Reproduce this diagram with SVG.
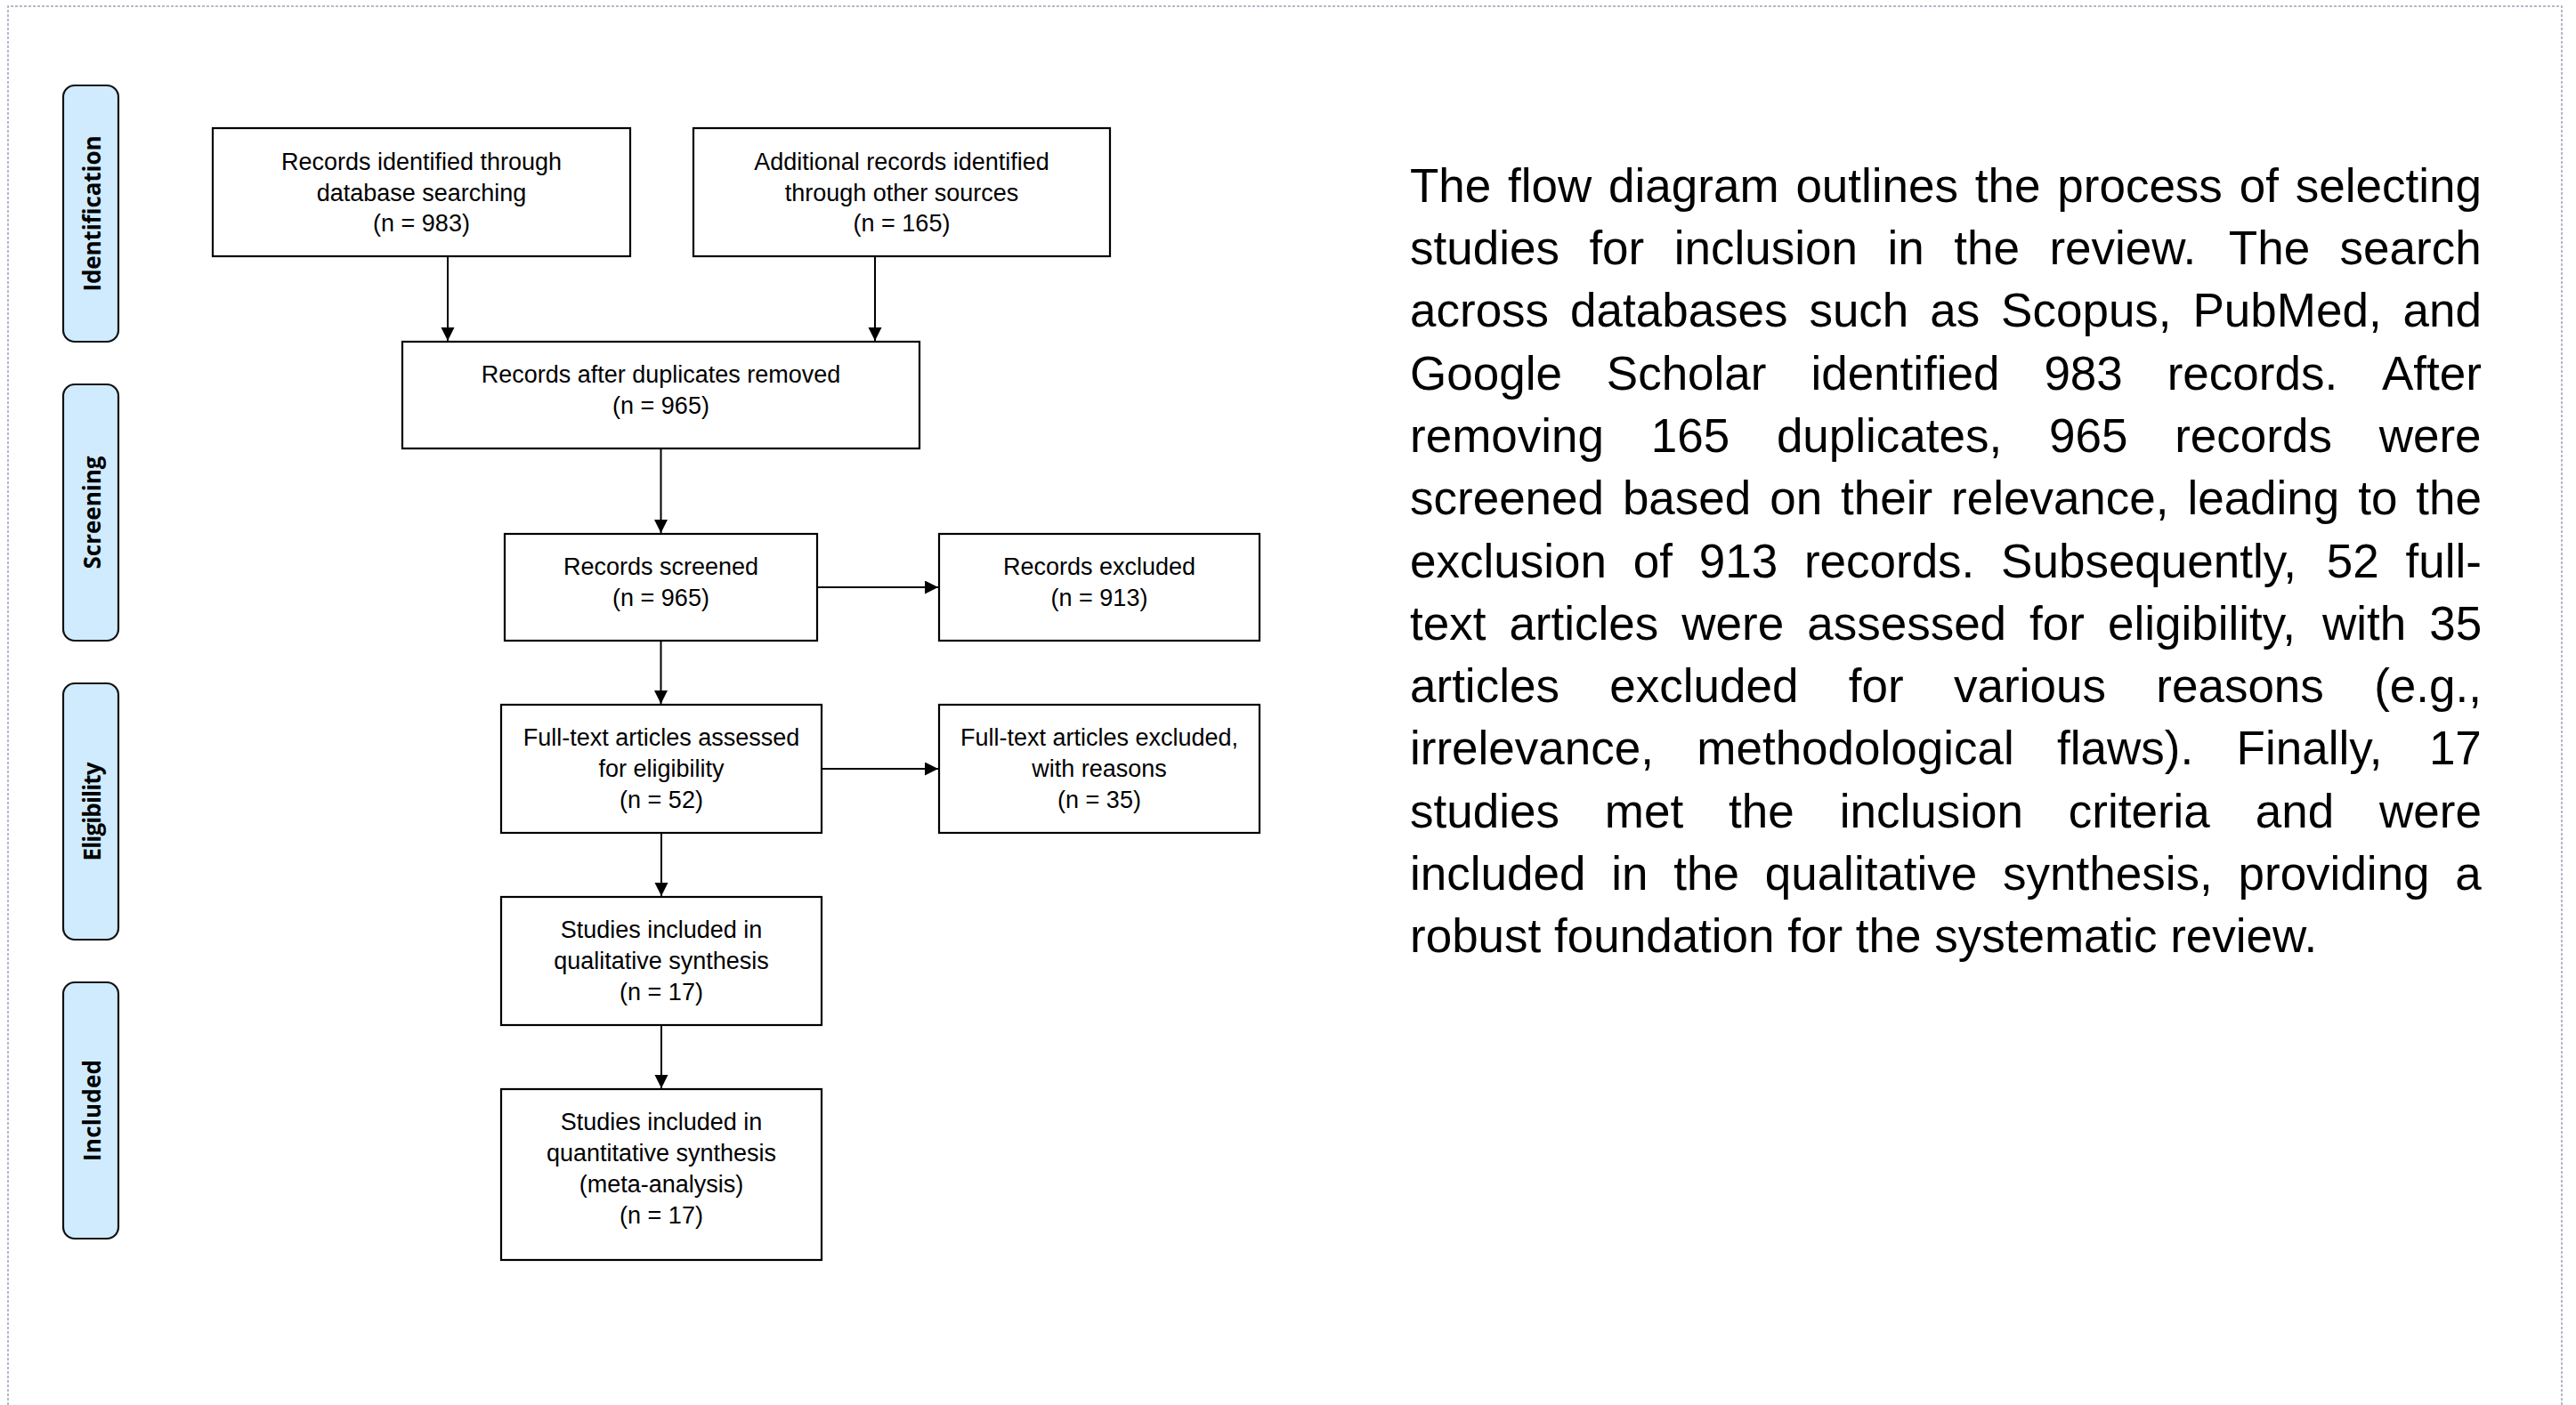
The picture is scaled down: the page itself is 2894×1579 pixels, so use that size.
<svg xmlns="http://www.w3.org/2000/svg" width="2894" height="1579" viewBox="0 0 2894 1579">
<defs>
<style>
.frame{fill:none;stroke:#9aa3b5;stroke-width:1.5;stroke-dasharray:3 2}
.phase rect{fill:#cfebfd;stroke:#111;stroke-width:2.2}
.phase text{font-family:"Open Sans","DejaVu Sans",sans-serif;font-weight:bold;font-size:26px;fill:#000;text-anchor:middle}
.box rect{fill:#fff;stroke:#000;stroke-width:2.2}
.box text{font-family:"Liberation Sans",Arial,sans-serif;font-size:27px;fill:#000;text-anchor:middle}
.conn line{stroke:#000;stroke-width:2;marker-end:url(#ah)}
.p{font-family:"Liberation Sans",Arial,sans-serif;font-size:53px;fill:#000}
</style>
<marker id="ah" markerUnits="userSpaceOnUse" markerWidth="16" markerHeight="16" refX="15" refY="7.5" orient="auto">
<path d="M0,0 L15,7.5 L0,15 Z" fill="#000"/>
</marker>
</defs>
<rect width="2894" height="1579" fill="#fff"/>
<path class="frame" d="M9,1579 V7 H2878 V1579"/>

<g id="phase-identification" class="phase">
<rect x="71" y="96" width="62" height="288" rx="13"/>
<text x="113" y="240" transform="rotate(-90 113 240)" textLength="175">Identification</text>
</g>
<g id="phase-screening" class="phase">
<rect x="71" y="432" width="62" height="288" rx="13"/>
<text x="113" y="576" transform="rotate(-90 113 576)" textLength="127">Screening</text>
</g>
<g id="phase-eligibility" class="phase">
<rect x="71" y="768" width="62" height="288" rx="13"/>
<text x="113" y="912" transform="rotate(-90 113 912)" textLength="111">Eligibility</text>
</g>
<g id="phase-included" class="phase">
<rect x="71" y="1104" width="62" height="288" rx="13"/>
<text x="113" y="1248" transform="rotate(-90 113 1248)" textLength="114">Included</text>
</g>

<g id="connectors" class="conn">
<line x1="503" y1="288" x2="503" y2="383"/>
<line x1="983" y1="288" x2="983" y2="383"/>
<line x1="742.5" y1="504" x2="742.5" y2="599"/>
<line x1="918" y1="660" x2="1054" y2="660"/>
<line x1="742.5" y1="720" x2="742.5" y2="791"/>
<line x1="923" y1="864" x2="1054" y2="864"/>
<line x1="743" y1="936" x2="743" y2="1007"/>
<line x1="743" y1="1152" x2="743" y2="1223"/>
</g>

<g id="node-db-records" class="box">
<rect x="239" y="144" width="469" height="144"/>
<text x="473.5" y="191">Records identified through</text>
<text x="473.5" y="226">database searching</text>
<text x="473.5" y="260">(n = 983)</text>
</g>
<g id="node-other-records" class="box">
<rect x="779" y="144" width="468" height="144"/>
<text x="1013" y="191">Additional records identified</text>
<text x="1013" y="226">through other sources</text>
<text x="1013" y="260">(n = 165)</text>
</g>
<g id="node-duplicates-removed" class="box">
<rect x="452" y="384" width="581" height="120"/>
<text x="742.5" y="430">Records after duplicates removed</text>
<text x="742.5" y="465">(n = 965)</text>
</g>
<g id="node-screened" class="box">
<rect x="567" y="600" width="351" height="120"/>
<text x="742.5" y="646">Records screened</text>
<text x="742.5" y="681">(n = 965)</text>
</g>
<g id="node-excluded" class="box">
<rect x="1055" y="600" width="360" height="120"/>
<text x="1235" y="646">Records excluded</text>
<text x="1235" y="681">(n = 913)</text>
</g>
<g id="node-fulltext" class="box">
<rect x="563" y="792" width="360" height="144"/>
<text x="743" y="838">Full-text articles assessed</text>
<text x="743" y="873">for eligibility</text>
<text x="743" y="908">(n = 52)</text>
</g>
<g id="node-fulltext-excluded" class="box">
<rect x="1055" y="792" width="360" height="144"/>
<text x="1235" y="838">Full-text articles excluded,</text>
<text x="1235" y="873">with reasons</text>
<text x="1235" y="908">(n = 35)</text>
</g>
<g id="node-qualitative" class="box">
<rect x="563" y="1008" width="360" height="144"/>
<text x="743" y="1054">Studies included in</text>
<text x="743" y="1089">qualitative synthesis</text>
<text x="743" y="1124">(n = 17)</text>
</g>
<g id="node-quantitative" class="box">
<rect x="563" y="1224" width="360" height="192"/>
<text x="743" y="1270">Studies included in</text>
<text x="743" y="1305">quantitative synthesis</text>
<text x="743" y="1340">(meta-analysis)</text>
<text x="743" y="1375">(n = 17)</text>
</g>

<g id="paragraph">
<text class="p" y="226.7"><tspan x="1584">The </tspan><tspan x="1694.1">flow </tspan><tspan x="1807.1">diagram </tspan><tspan x="2017.4">outlines </tspan><tspan x="2218.8">the </tspan><tspan x="2311.3">process </tspan><tspan x="2515.7">of </tspan><tspan x="2578.8">selecting</tspan></text>
<text class="p" y="297"><tspan x="1584">studies </tspan><tspan x="1785.4">for </tspan><tspan x="1880.8">inclusion </tspan><tspan x="2120.5">in </tspan><tspan x="2195.2">the </tspan><tspan x="2302.4">review. </tspan><tspan x="2503.8">The </tspan><tspan x="2628.6">search</tspan></text>
<text class="p" y="367.3"><tspan x="1584">across </tspan><tspan x="1764">databases </tspan><tspan x="2032.4">such </tspan><tspan x="2168.2">as </tspan><tspan x="2248.1">Scopus, </tspan><tspan x="2463.5">PubMed, </tspan><tspan x="2699.5">and</tspan></text>
<text class="p" y="437.6"><tspan x="1584">Google </tspan><tspan x="1804.8">Scholar </tspan><tspan x="2034.4">identified </tspan><tspan x="2296.4">983 </tspan><tspan x="2434.7">records. </tspan><tspan x="2676">After</tspan></text>
<text class="p" y="507.9"><tspan x="1584">removing </tspan><tspan x="1854.7">165 </tspan><tspan x="1995.9">duplicates, </tspan><tspan x="2302">965 </tspan><tspan x="2443.2">records </tspan><tspan x="2672.7">were</tspan></text>
<text class="p" y="578.2"><tspan x="1584">screened </tspan><tspan x="1822.9">based </tspan><tspan x="1988.2">on </tspan><tspan x="2068">their </tspan><tspan x="2192">relevance, </tspan><tspan x="2457.4">leading </tspan><tspan x="2649.2">to </tspan><tspan x="2714.3">the</tspan></text>
<text class="p" y="648.5"><tspan x="1584">exclusion </tspan><tspan x="1834.7">of </tspan><tspan x="1908.7">913 </tspan><tspan x="2026.9">records. </tspan><tspan x="2248.1">Subsequently, </tspan><tspan x="2613.8">52 </tspan><tspan x="2702.5">full-</tspan></text>
<text class="p" y="718.8"><tspan x="1584">text </tspan><tspan x="1695.4">articles </tspan><tspan x="1889.3">were </tspan><tspan x="2030.2">assessed </tspan><tspan x="2280.1">for </tspan><tspan x="2368">eligibility, </tspan><tspan x="2609">with </tspan><tspan x="2729.2">35</tspan></text>
<text class="p" y="789.1"><tspan x="1584">articles </tspan><tspan x="1808.3">excluded </tspan><tspan x="2076.8">for </tspan><tspan x="2195.1">various </tspan><tspan x="2422.3">reasons </tspan><tspan x="2667.2">(e.g.,</tspan></text>
<text class="p" y="859.4"><tspan x="1584">irrelevance, </tspan><tspan x="1906.3">methodological </tspan><tspan x="2311.1">flaws). </tspan><tspan x="2512.6">Finally, </tspan><tspan x="2728.9">17</tspan></text>
<text class="p" y="929.7"><tspan x="1584">studies </tspan><tspan x="1802.8">met </tspan><tspan x="1942.1">the </tspan><tspan x="2066.7">inclusion </tspan><tspan x="2323.8">criteria </tspan><tspan x="2533.7">and </tspan><tspan x="2673">were</tspan></text>
<text class="p" y="1000"><tspan x="1584">included </tspan><tspan x="1810.2">in </tspan><tspan x="1880.2">the </tspan><tspan x="1982.7">qualitative </tspan><tspan x="2250.1">synthesis, </tspan><tspan x="2514.5">providing </tspan><tspan x="2758.3">a</tspan></text>
<text class="p" y="1070.3"><tspan x="1584">robust </tspan><tspan x="1746">foundation </tspan><tspan x="2008.2">for </tspan><tspan x="2084.8">the </tspan><tspan x="2173.2">systematic </tspan><tspan x="2438.2">review.</tspan></text>
</g>
</svg>
